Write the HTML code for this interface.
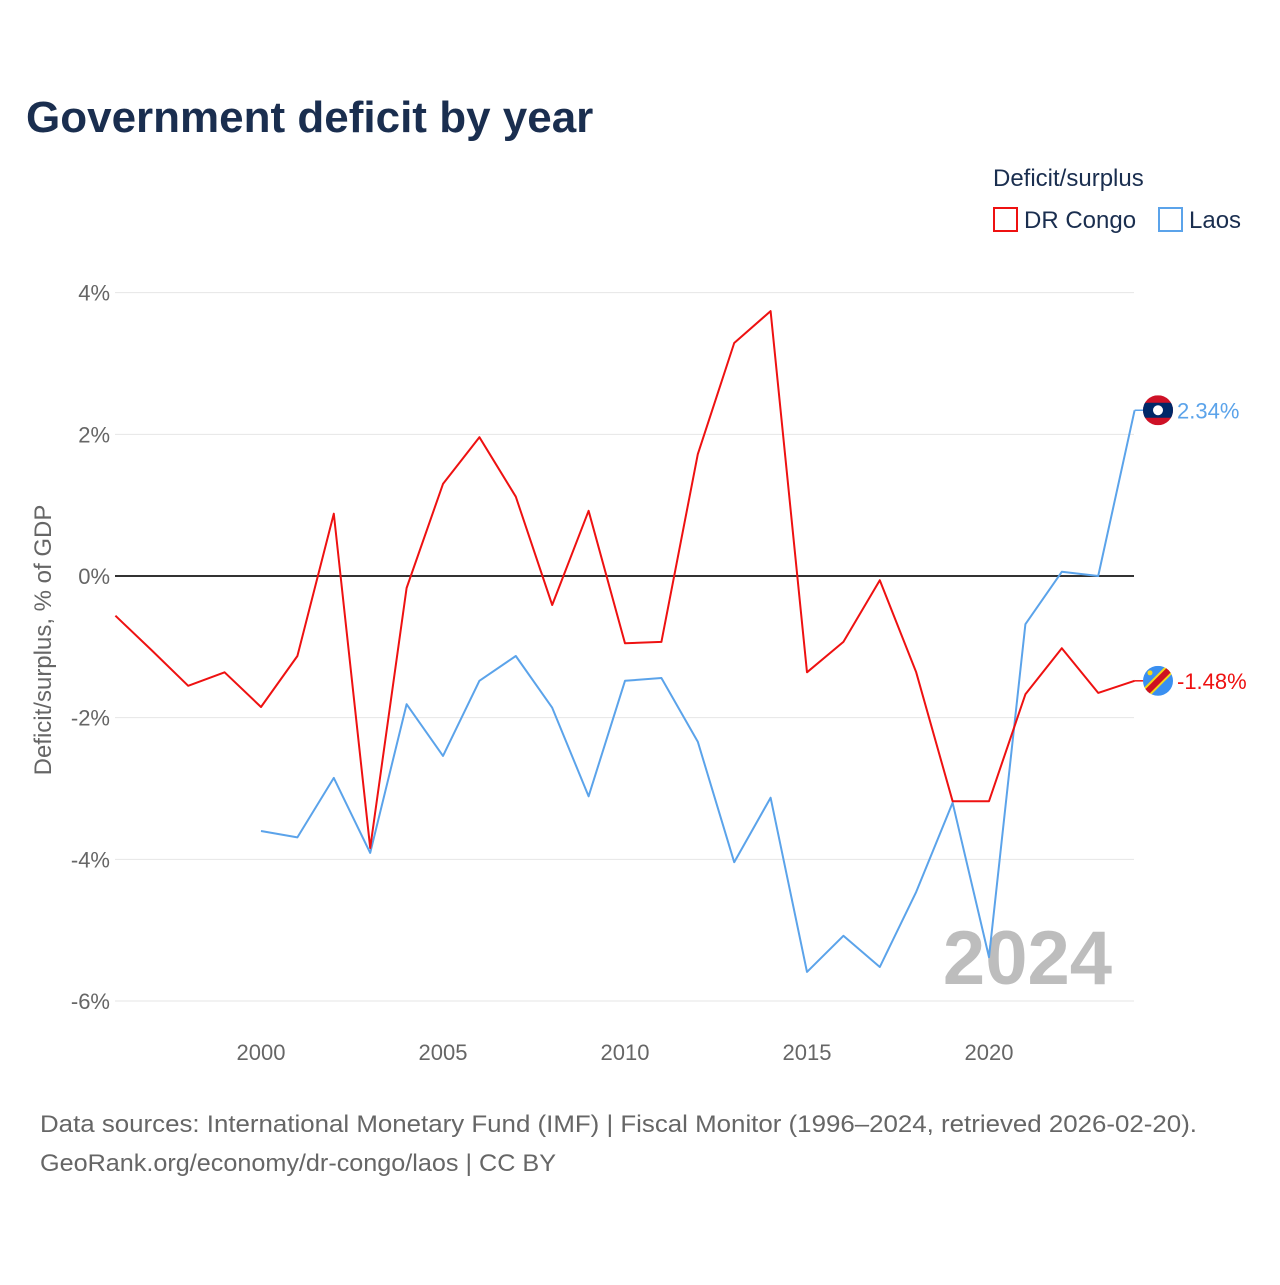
<!DOCTYPE html>
<html><head><meta charset="utf-8"><style>
body{margin:0;background:#fff;}
svg text{font-family:"Liberation Sans",sans-serif;}
</style></head><body>
<svg id="chart" width="1280" height="1280" xmlns="http://www.w3.org/2000/svg">
<text x="26" y="132" font-size="44" font-weight="bold" fill="#1a2e4f">Government deficit by year</text>
<text x="993" y="186" font-size="24" fill="#1a2e4f">Deficit/surplus</text>
<g><rect x="994" y="208" width="23" height="23" fill="none" stroke="#ee1111" stroke-width="2"/><text x="1024" y="228" font-size="24" fill="#1a2e4f">DR Congo</text></g>
<g><rect x="1159" y="208" width="23" height="23" fill="none" stroke="#5ba3ea" stroke-width="2"/><text x="1189" y="228" font-size="24" fill="#1a2e4f">Laos</text></g>
<g id="grid"></g>
<g id="yticks"></g>
<g id="xticks"></g>
<text transform="translate(51,640) rotate(-90)" text-anchor="middle" font-size="24" fill="#666">Deficit/surplus, % of GDP</text>
<text x="1112" y="984" text-anchor="end" font-size="76" font-weight="bold" fill="#bdbdbd">2024</text>
<g id="series"></g>
<text x="40" y="1132" font-size="24" fill="#666" textLength="1157" lengthAdjust="spacingAndGlyphs">Data sources: International Monetary Fund (IMF) | Fiscal Monitor (1996–2024, retrieved 2026-02-20).</text>
<text x="40" y="1171" font-size="24" fill="#666" textLength="516" lengthAdjust="spacingAndGlyphs">GeoRank.org/economy/dr-congo/laos | CC BY</text>
</svg>
<script>
const years=[1996,1997,1998,1999,2000,2001,2002,2003,2004,2005,2006,2007,2008,2009,2010,2011,2012,2013,2014,2015,2016,2017,2018,2019,2020,2021,2022,2023,2024];
const drCongo=[-0.56,-1.05,-1.55,-1.36,-1.85,-1.13,0.88,-3.84,-0.17,1.30,1.96,1.12,-0.41,0.92,-0.95,-0.93,1.72,3.29,3.74,-1.36,-0.93,-0.06,-1.36,-3.18,-3.18,-1.67,-1.02,-1.65,-1.48];
const laos=[null,null,null,null,-3.60,-3.69,-2.85,-3.91,-1.81,-2.54,-1.48,-1.13,-1.86,-3.11,-1.48,-1.44,-2.34,-4.04,-3.13,-5.59,-5.08,-5.52,-4.46,-3.20,-5.38,-0.68,0.06,0.0,2.34];
const yTickVals=[4,2,0,-2,-4,-6];
const yTickLabels=["4%","2%","0%","-2%","-4%","-6%"];
const xTickVals=[2000,2005,2010,2015,2020];
const NS="http://www.w3.org/2000/svg";
const X=y=>115.4+(y-1996)*36.4;
const Y=v=>576-v*70.83;
function mk(tag,attrs,parent){const e=document.createElementNS(NS,tag);for(const k in attrs)e.setAttribute(k,attrs[k]);parent.appendChild(e);return e;}
const grid=document.getElementById('grid'),yt=document.getElementById('yticks'),xt=document.getElementById('xticks'),ser=document.getElementById('series');
yTickVals.forEach((v,i)=>{
 const l=mk('line',{x1:115,x2:1134,y1:Y(v),y2:Y(v),stroke:v===0?'#333':'#e6e6e6','stroke-width':v===0?2:1},grid);
 
 
 const t=mk('text',{x:110,y:Y(v)+8,'text-anchor':'end','font-size':22,fill:'#666'},yt);
 t.textContent=yTickLabels[i];
 
 
});
xTickVals.forEach(v=>{
 const t=mk('text',{x:X(v),y:1060,'text-anchor':'middle','font-size':22,fill:'#666'},xt);
 t.textContent=v;
 
 
});
function line(vals,color,name){
 let d='';vals.forEach((v,i)=>{if(v===null)return;d+=(d?'L':'M')+X(years[i]).toFixed(1)+','+Y(v).toFixed(1);});
 const p=mk('path',{d:d,fill:'none',stroke:color,'stroke-width':2,'stroke-linejoin':'round'},ser);
 
 
}
line(laos,'#5ba3ea','laos-line');
line(drCongo,'#ee1111','dr-congo-line');
const lastL=laos[laos.length-1],lastD=drCongo[drCongo.length-1];
const lx=X(2024);
mk('line',{x1:lx,x2:lx+12,y1:Y(lastL),y2:Y(lastL),stroke:'#5ba3ea','stroke-width':1.5},ser);
mk('line',{x1:lx,x2:lx+12,y1:Y(lastD),y2:Y(lastD),stroke:'#ee1111','stroke-width':1.5},ser);
const fl=mk('g',{},ser);


const cx=1158,cyL=Y(lastL);
mk('clipPath',{id:'c1'},fl);mk('circle',{cx:cx,cy:cyL,r:15},fl.lastChild);
const gL=mk('g',{'clip-path':'url(#c1)'},fl);
mk('rect',{x:cx-15,y:cyL-15,width:30,height:30,fill:'#ce1126'},gL);
mk('rect',{x:cx-15,y:cyL-7.5,width:30,height:15,fill:'#002868'},gL);
mk('circle',{cx:cx,cy:cyL,r:5,fill:'#fff'},gL);
const tL=mk('text',{x:1177,y:cyL+8,'font-size':22,fill:'#5ba3ea'},ser);
tL.textContent=lastL.toFixed(2)+'%';


const fd=mk('g',{},ser);


const cyD=Y(lastD);
mk('clipPath',{id:'c2'},fd);mk('circle',{cx:cx,cy:cyD,r:15},fd.lastChild);
const gD=mk('g',{'clip-path':'url(#c2)'},fd);
mk('rect',{x:cx-15,y:cyD-15,width:30,height:30,fill:'#3a8ff0'},gD);
mk('line',{x1:cx-18,y1:cyD+18,x2:cx+18,y2:cyD-18,stroke:'#f7d618','stroke-width':10},gD);
mk('line',{x1:cx-18,y1:cyD+18,x2:cx+18,y2:cyD-18,stroke:'#ce1021','stroke-width':6},gD);
mk('circle',{cx:cx-8,cy:cyD-8,r:2.5,fill:'#f7d618'},gD);
const tD=mk('text',{x:1177,y:cyD+8,'font-size':22,fill:'#ee1111'},ser);
tD.textContent=lastD.toFixed(2)+'%';


</script>
</body></html>
